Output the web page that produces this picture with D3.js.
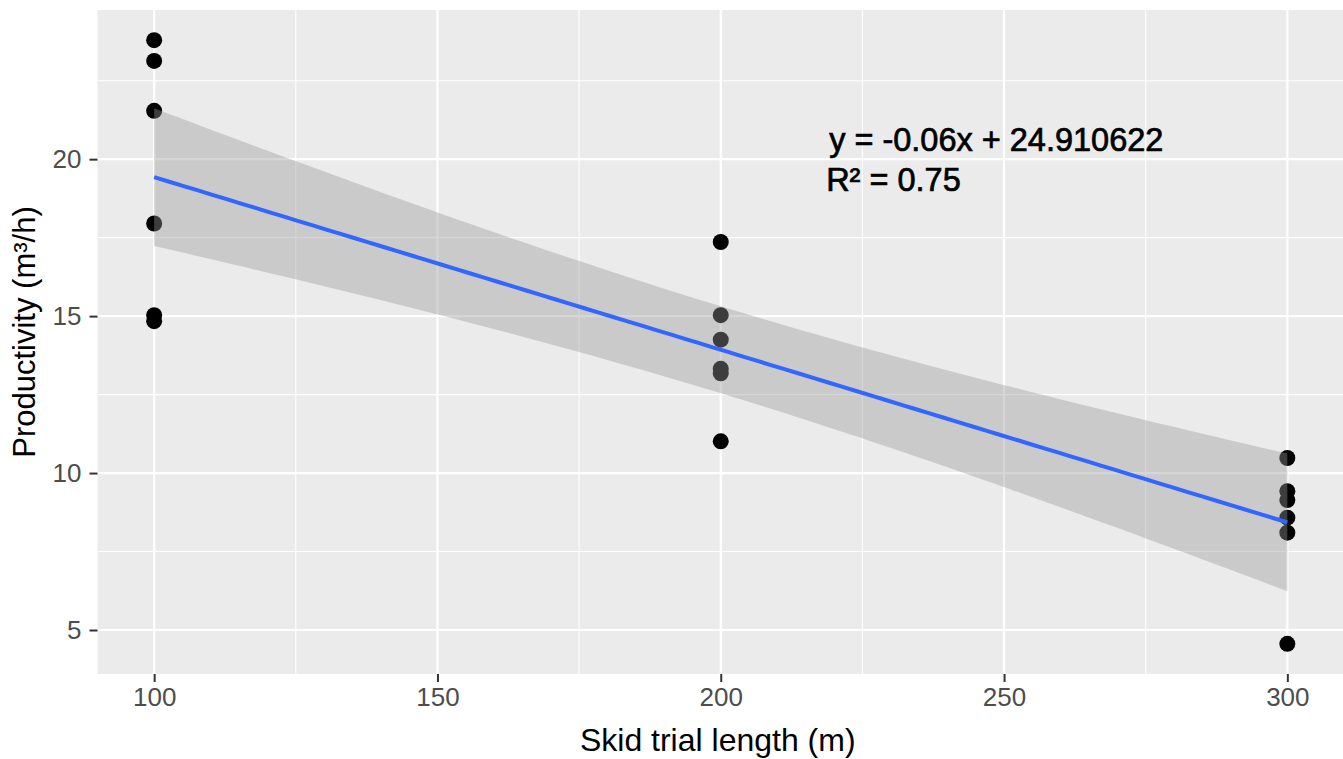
<!DOCTYPE html>
<html>
<head>
<meta charset="utf-8">
<script src="https://cdn.jsdelivr.net/npm/d3@7"></script>
<style>
  body { margin: 0; background: #fff; }
  text { font-family: "Liberation Sans", Arial, sans-serif; }
</style>
</head>
<body>
<svg class="skid"></svg>
<script>
// Data
var skidLength = [100, 100, 100, 100, 100, 100,
                  200, 200, 200, 200, 200, 200,
                  300, 300, 300, 300, 300, 300];
var productivity = [23.79, 23.13, 21.54, 17.95, 15.03, 14.84,
                    17.36, 15.03, 14.25, 13.32, 13.18, 11.01,
                    10.48, 9.42, 9.14, 8.58, 8.10, 4.56];
var xTicks = [100, 150, 200, 250, 300];
var xMinor = [125, 175, 225, 275];
var yTicks = [5, 10, 15, 20];
var yMinor = [7.5, 12.5, 17.5, 22.5];
var eqnLines = ["y = -0.06x + 24.910622", "R\u00B2 = 0.75"];

// Total dimensions
var w = 1343,
    h = 759;

var svg = d3.select(".skid")
    .attr("width", w)
    .attr("height", h);

// Panel box
var margin = { top: 10, right: -1, bottom: 85, left: 97.5 },
    width = w - margin.left - margin.right,
    height = h - margin.top - margin.bottom;

var dataset = skidLength.map(function(x, i) { return { x: x, y: productivity[i] }; });

// ggplot style 5% expansion
var xExt = d3.extent(skidLength), yExt = d3.extent(productivity);
var xPad = (xExt[1] - xExt[0]) * 0.05, yPad = (yExt[1] - yExt[0]) * 0.05;

var xScale = d3.scaleLinear()
    .domain([xExt[0] - xPad, xExt[1] + xPad])
    .range([margin.left, margin.left + width]);
var yScale = d3.scaleLinear()
    .domain([yExt[0] - yPad, yExt[1] + yPad])
    .range([margin.top + height, margin.top]);

// Panel background
svg.append("rect")
    .attr("x", margin.left)
    .attr("y", margin.top)
    .attr("width", width)
    .attr("height", height)
    .attr("fill", "#EBEBEB");

// Grid
var grid = svg.append("g").attr("class", "grid");
grid.selectAll(".ymin").data(yMinor).enter().append("line")
    .attr("x1", margin.left).attr("x2", margin.left + width)
    .attr("y1", function(d) { return yScale(d); })
    .attr("y2", function(d) { return yScale(d); })
    .attr("stroke", "#fff").attr("stroke-width", 1.1);
grid.selectAll(".xmin").data(xMinor).enter().append("line")
    .attr("y1", margin.top).attr("y2", margin.top + height)
    .attr("x1", function(d) { return xScale(d); })
    .attr("x2", function(d) { return xScale(d); })
    .attr("stroke", "#fff").attr("stroke-width", 1.1);
grid.selectAll(".ymaj").data(yTicks).enter().append("line")
    .attr("x1", margin.left).attr("x2", margin.left + width)
    .attr("y1", function(d) { return yScale(d); })
    .attr("y2", function(d) { return yScale(d); })
    .attr("stroke", "#fff").attr("stroke-width", 2.2);
grid.selectAll(".xmaj").data(xTicks).enter().append("line")
    .attr("y1", margin.top).attr("y2", margin.top + height)
    .attr("x1", function(d) { return xScale(d); })
    .attr("x2", function(d) { return xScale(d); })
    .attr("stroke", "#fff").attr("stroke-width", 2.2);

// Points
svg.append("g").selectAll("circle")
    .data(dataset)
    .enter().append("circle")
    .attr("cx", function(d) { return xScale(d.x); })
    .attr("cy", function(d) { return yScale(d.y); })
    .attr("r", 8)
    .attr("fill", "#000");

// Linear model + 95% band (like geom_smooth(method = "lm"))
var n = dataset.length;
var mx = d3.mean(skidLength), my = d3.mean(productivity);
var sxx = d3.sum(skidLength, function(x) { return (x - mx) * (x - mx); });
var sxy = d3.sum(dataset, function(d) { return (d.x - mx) * (d.y - my); });
var slope = sxy / sxx, intercept = my - slope * mx;
var rss = d3.sum(dataset, function(d) { var r = d.y - (intercept + slope * d.x); return r * r; });
var s = Math.sqrt(rss / (n - 2));
var tq = 2.119905; // qt(0.975, 16)

var fit = d3.range(80).map(function(i) {
    var x = xExt[0] + (xExt[1] - xExt[0]) * i / 79;
    var yhat = intercept + slope * x;
    var se = s * Math.sqrt(1 / n + (x - mx) * (x - mx) / sxx);
    return { x: x, y: yhat, lo: yhat - tq * se, hi: yhat + tq * se };
});

var area = d3.area()
    .x(function(d) { return xScale(d.x); })
    .y0(function(d) { return yScale(d.lo); })
    .y1(function(d) { return yScale(d.hi); });

svg.append("path")
    .datum(fit)
    .attr("fill", "#999999")
    .attr("fill-opacity", 0.4)
    .attr("d", area);

var line = d3.line()
    .x(function(d) { return xScale(d.x); })
    .y(function(d) { return yScale(d.y); });

svg.append("path")
    .datum(fit)
    .attr("fill", "none")
    .attr("stroke", "#3366FF")
    .attr("stroke-width", 4)
    .attr("d", line);

// Axes
var xAxis = d3.axisBottom(xScale).tickValues(xTicks).tickSize(8).tickPadding(6);
var yAxis = d3.axisLeft(yScale).tickValues(yTicks).tickSize(8).tickPadding(8);

var gx = svg.append("g")
    .attr("transform", "translate(0," + (margin.top + height) + ")")
    .call(xAxis);
var gy = svg.append("g")
    .attr("transform", "translate(" + margin.left + ",0)")
    .call(yAxis);

[gx, gy].forEach(function(a) {
    a.select(".domain").remove();
    a.selectAll(".tick line").attr("stroke", "#333333").attr("stroke-width", 2);
    a.selectAll(".tick text")
        .attr("fill", "#4D4D4D")
        .attr("font-size", "26px")
        .attr("font-family", "Liberation Sans, Arial, sans-serif");
});

// Equation annotation
svg.append("g").selectAll("text")
    .data(eqnLines)
    .enter().append("text")
    .attr("x", function(d, i) { return xScale(218.6) + (i === 0 ? 3 : 0); })
    .attr("y", function(d, i) { return yScale(20.27) + i * 40; })
    .attr("font-size", "32.5px")
    .attr("fill", "#000")
    .attr("stroke", "#000")
    .attr("stroke-width", 0.7)
    .text(function(d) { return d; });

// Axis titles
svg.append("text")
    .attr("x", margin.left + width / 2 - 3)
    .attr("y", 751)
    .attr("text-anchor", "middle")
    .attr("font-size", "32px")
    .attr("fill", "#000")
    .text("Skid trial length (m)");

svg.append("text")
    .attr("transform", "translate(35,332) rotate(-90)")
    .attr("text-anchor", "middle")
    .attr("font-size", "31px")
    .attr("fill", "#000")
    .text("Productivity (m\u00B3/h)");
</script>
</body>
</html>
